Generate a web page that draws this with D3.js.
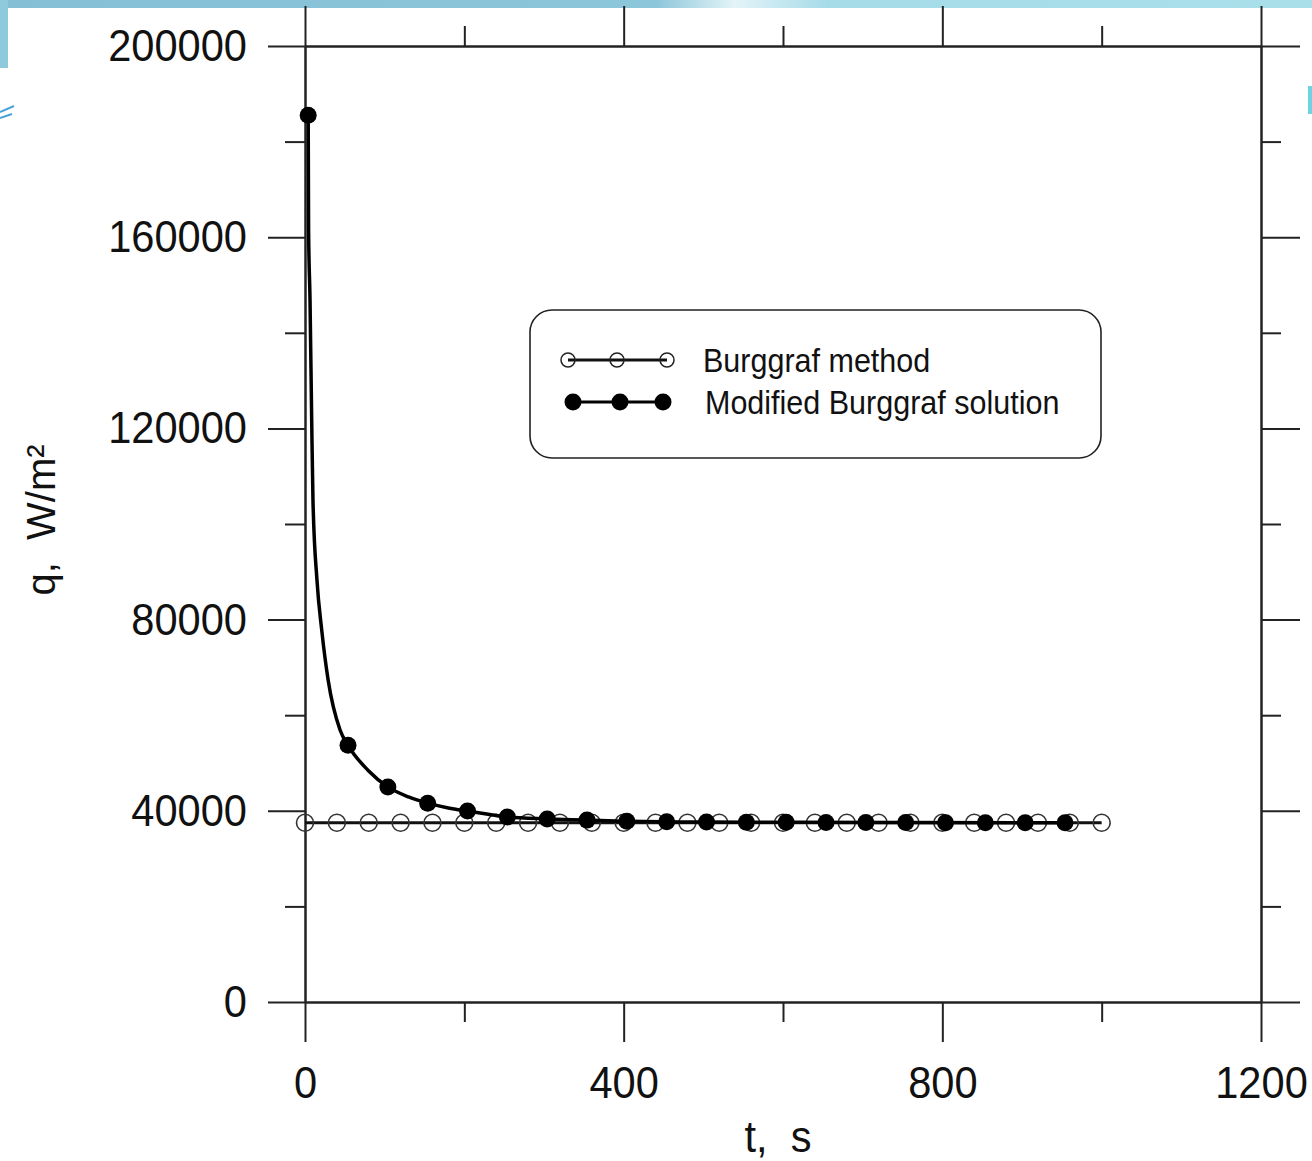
<!DOCTYPE html>
<html>
<head>
<meta charset="utf-8">
<script src="https://cdn.jsdelivr.net/npm/d3@7"></script>
<style>
  body { margin: 0; background: #fff; }
  svg { display: block; font-family: "Liberation Sans", Arial, sans-serif; }
</style>
</head>
<body>
<div id="chart"></div>
<script>
// Burggraf method (open circles)
var burgT = [0, 40, 80, 120, 160, 200, 240, 280, 320, 360, 400, 440, 480, 520, 560, 600, 640, 680, 720, 760, 800, 840, 880, 920, 960, 1000];
var burgQ = [37500, 37500, 37500, 37500, 37500, 37500, 37500, 37500, 37500, 37500, 37500, 37500, 37500, 37500, 37500, 37500, 37500, 37500, 37500, 37500, 37500, 37500, 37500, 37500, 37500, 37500];

// Modified Burggraf solution markers
var modT = [4, 54, 104, 154, 204, 254, 304, 354, 404, 454, 504, 554, 604, 654, 704, 754, 804, 854, 904, 954];
var modQ = [185500, 53700, 45000, 41600, 39950, 38700, 38300, 38050, 37800, 37700, 37650, 37600, 37600, 37550, 37550, 37550, 37500, 37500, 37500, 37500];

// curve of the modified solution
var curveT = [4, 4.5, 6.3, 8.4, 10, 15, 21, 29, 44, 54, 79, 104, 130, 154, 180, 204, 230, 254, 304, 354, 404, 504, 604, 754, 954];
var curveQ = [185500, 161500, 146900, 121700, 105000, 88300, 77800, 67400, 56900, 53700, 48500, 45000, 42900, 41600, 40600, 39950, 39300, 38700, 38300, 38050, 37800, 37650, 37600, 37550, 37500];

var xMajor = [0, 400, 800, 1200];
var xMinor = [200, 600, 1000];
var yMajor = [0, 40000, 80000, 120000, 160000, 200000];
var yMinor = [20000, 60000, 100000, 140000, 180000];

var legendNames = ["Burggraf method", "Modified Burggraf solution"];

var svgWidth = 1312;
var svgHeight = 1161;
var squeeze = 0.925; // the picture's lettering is a bit narrow

var svg = d3.select("#chart")
  .append("svg")
  .attr("width", svgWidth)
  .attr("height", svgHeight);

// slide background bits
var defs = svg.append("defs");
var grad = defs.append("linearGradient").attr("id", "topband");
grad.append("stop").attr("offset", "0%").attr("stop-color", "#84bfd6");
grad.append("stop").attr("offset", "50%").attr("stop-color", "#8cc6da");
grad.append("stop").attr("offset", "56%").attr("stop-color", "#e4f4f8");
grad.append("stop").attr("offset", "63%").attr("stop-color", "#a6dce8");
grad.append("stop").attr("offset", "100%").attr("stop-color", "#a9dfe9");

svg.append("rect").attr("x", 0).attr("y", 0).attr("width", svgWidth).attr("height", 8)
  .attr("fill", "url(#topband)");
svg.append("rect").attr("x", 0).attr("y", 0).attr("width", 8).attr("height", 68)
  .attr("fill", "#8fc9dc");
svg.append("rect").attr("x", 1308).attr("y", 86).attr("width", 4).attr("height", 28)
  .attr("fill", "#6fd3e3");
svg.append("path").attr("d", "M0,112 L14,106").attr("stroke", "#4aa3d8").attr("stroke-width", 2).attr("fill", "none");
svg.append("path").attr("d", "M0,118 L12,114").attr("stroke", "#4aa3d8").attr("stroke-width", 2).attr("fill", "none");

var xScale = d3.scaleLinear().domain([0, 1200]).range([305, 1261]);
var yScale = d3.scaleLinear().domain([0, 200000]).range([1002, 46]);

var axisColor = "#222";

function narrow(sel) {
  sel.each(function() {
    var t = d3.select(this);
    var x = +t.attr("x") || 0;
    t.attr("x", x / squeeze).attr("transform", "scale(" + squeeze + ",1)");
  });
}

function styleAxis(g) {
  g.selectAll("path.domain").attr("stroke", axisColor).attr("stroke-width", 2);
  g.selectAll(".tick line").attr("stroke", axisColor).attr("stroke-width", 2);
  g.selectAll("text")
    .attr("fill", "#111")
    .style("font-size", "45px")
    .style("font-family", "'Liberation Sans', Arial, sans-serif")
    .call(narrow);
}

// bottom
svg.append("g").attr("transform", "translate(0," + yScale(0) + ")")
  .call(d3.axisBottom(xScale).tickValues(xMinor).tickSize(20).tickSizeOuter(0).tickFormat(""))
  .call(styleAxis);
svg.append("g").attr("transform", "translate(0," + yScale(0) + ")")
  .call(d3.axisBottom(xScale).tickValues(xMajor).tickSize(40).tickSizeOuter(0).tickPadding(24).tickFormat(d3.format("d")))
  .call(styleAxis);

// top
svg.append("g").attr("transform", "translate(0," + yScale(200000) + ")")
  .call(d3.axisTop(xScale).tickValues(xMinor).tickSize(20).tickSizeOuter(0).tickFormat(""))
  .call(styleAxis);
svg.append("g").attr("transform", "translate(0," + yScale(200000) + ")")
  .call(d3.axisTop(xScale).tickValues(xMajor).tickSize(40).tickSizeOuter(0).tickFormat(""))
  .call(styleAxis);

// left
svg.append("g").attr("transform", "translate(" + xScale(0) + ",0)")
  .call(d3.axisLeft(yScale).tickValues(yMinor).tickSize(20).tickSizeOuter(0).tickFormat(""))
  .call(styleAxis);
svg.append("g").attr("transform", "translate(" + xScale(0) + ",0)")
  .call(d3.axisLeft(yScale).tickValues(yMajor).tickSize(37).tickSizeOuter(0).tickPadding(21).tickFormat(d3.format("d")))
  .call(styleAxis);

// right
svg.append("g").attr("transform", "translate(" + xScale(1200) + ",0)")
  .call(d3.axisRight(yScale).tickValues(yMinor).tickSize(20).tickSizeOuter(0).tickFormat(""))
  .call(styleAxis);
svg.append("g").attr("transform", "translate(" + xScale(1200) + ",0)")
  .call(d3.axisRight(yScale).tickValues(yMajor).tickSize(39).tickSizeOuter(0).tickFormat(""))
  .call(styleAxis);

// axis titles
svg.append("text")
  .attr("x", 778).attr("y", 1152)
  .attr("text-anchor", "middle")
  .style("font-size", "45px")
  .style("white-space", "pre")
  .attr("fill", "#111")
  .text("t,  s")
  .call(narrow);

svg.append("text")
  .attr("transform", "translate(55,520) rotate(-90)")
  .attr("text-anchor", "middle")
  .style("font-size", "40px")
  .style("white-space", "pre")
  .attr("fill", "#111")
  .text("q,  W/m²");

// Burggraf series
var burgData = burgT.map(function(t, i) { return { t: t, q: burgQ[i] }; });
var line = d3.line().x(function(d) { return xScale(d.t); }).y(function(d) { return yScale(d.q); });

svg.append("path")
  .datum(burgData)
  .attr("d", line)
  .attr("fill", "none")
  .attr("stroke", "#111")
  .attr("stroke-width", 3);

svg.selectAll(".burg")
  .data(burgData)
  .enter().append("circle")
  .attr("class", "burg")
  .attr("cx", function(d) { return xScale(d.t); })
  .attr("cy", function(d) { return yScale(d.q); })
  .attr("r", 8.5)
  .attr("fill", "none")
  .attr("stroke", "#333")
  .attr("stroke-width", 1.6);

// modified solution
var curveData = curveT.map(function(t, i) { return { t: t, q: curveQ[i] }; });
var modData = modT.map(function(t, i) { return { t: t, q: modQ[i] }; });

svg.append("path")
  .datum(curveData)
  .attr("d", line.curve(d3.curveMonotoneX))
  .attr("fill", "none")
  .attr("stroke", "#000")
  .attr("stroke-width", 3.5);

svg.selectAll(".mod")
  .data(modData)
  .enter().append("circle")
  .attr("class", "mod")
  .attr("cx", function(d) { return xScale(d.t); })
  .attr("cy", function(d) { return yScale(d.q); })
  .attr("r", 8.5)
  .attr("fill", "#000");

// legend
var legend = svg.append("g");
legend.append("rect")
  .attr("x", 530).attr("y", 310)
  .attr("width", 571).attr("height", 148)
  .attr("rx", 22).attr("ry", 22)
  .attr("fill", "#fff")
  .attr("stroke", "#222")
  .attr("stroke-width", 1.6);

legend.append("line").attr("x1", 568).attr("x2", 667).attr("y1", 360).attr("y2", 360)
  .attr("stroke", "#111").attr("stroke-width", 3);
[568, 617, 667].forEach(function(cx) {
  legend.append("circle").attr("cx", cx).attr("cy", 360).attr("r", 7)
    .attr("fill", "#fff").attr("fill-opacity", 0).attr("stroke", "#222").attr("stroke-width", 1.5);
});
legend.append("line").attr("x1", 573).attr("x2", 663).attr("y1", 402).attr("y2", 402)
  .attr("stroke", "#000").attr("stroke-width", 3);
[573, 620, 663].forEach(function(cx) {
  legend.append("circle").attr("cx", cx).attr("cy", 402).attr("r", 8.5).attr("fill", "#000");
});

legend.append("text").attr("x", 703).attr("y", 372)
  .style("font-size", "33px").attr("fill", "#111").text(legendNames[0])
  .call(narrow);
legend.append("text").attr("x", 705).attr("y", 414)
  .style("font-size", "33px").attr("fill", "#111").text(legendNames[1])
  .call(narrow);
</script>
</body>
</html>
